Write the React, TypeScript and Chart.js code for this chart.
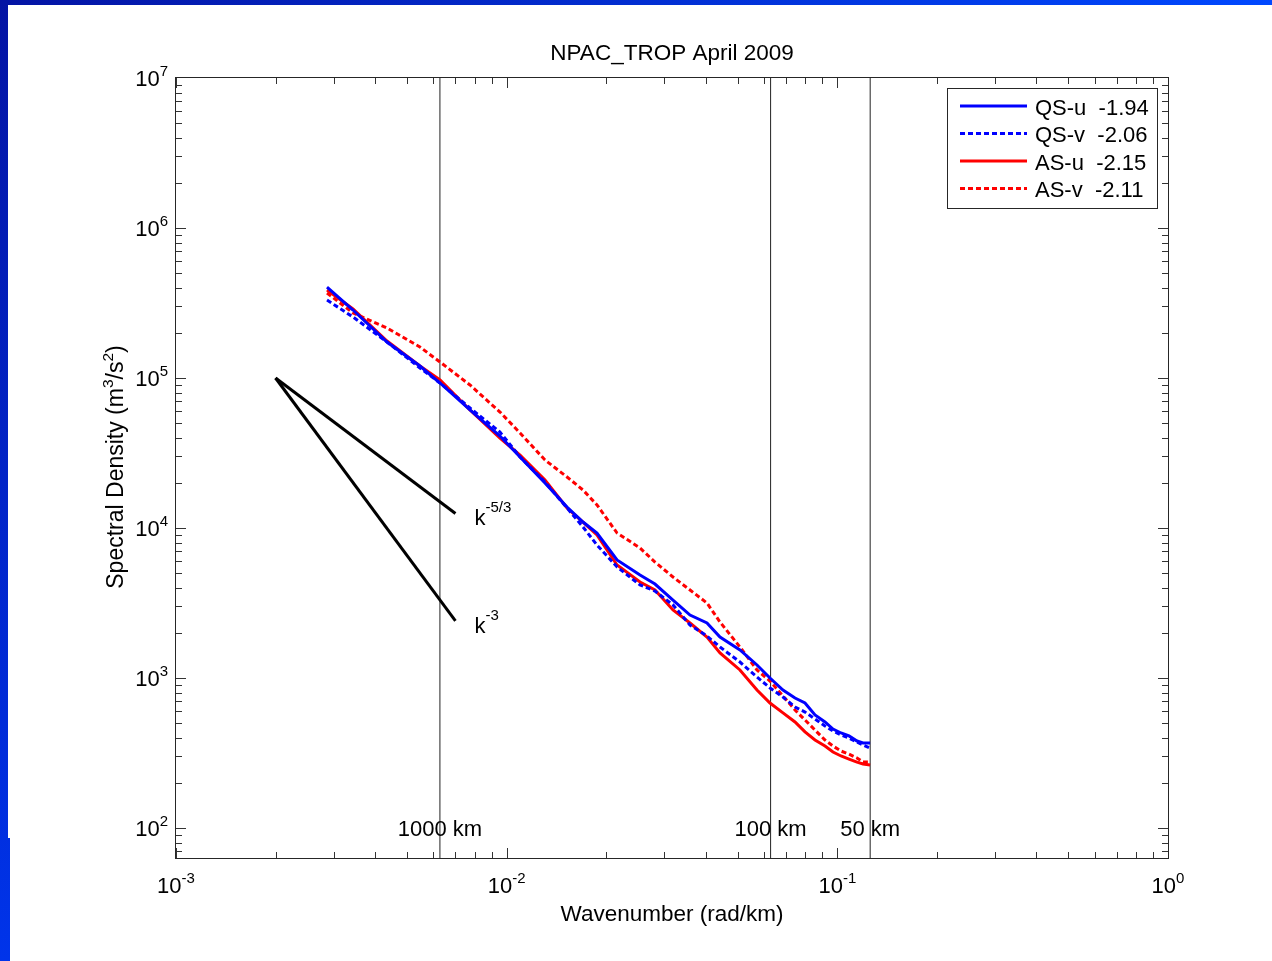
import { useEffect, useRef } from "react";
import { Chart, registerables } from "chart.js";

Chart.register(...registerables);

// ---------- data ----------
const wavenumber = [
  0.002862, 0.00343, 0.004346, 0.005467, 0.006287, 0.007746, 0.009545, 0.010975,
  0.013058, 0.015223, 0.017016, 0.018756, 0.021568, 0.025309, 0.028089, 0.031842,
  0.035849, 0.040345, 0.044171, 0.050755, 0.057148, 0.062563, 0.068487, 0.074473,
  0.07984, 0.085593, 0.09177, 0.097027, 0.10259, 0.10847, 0.11469, 0.11958, 0.12565,
];
const qsU = [
  4.04e5, 2.84e5, 1.738e5, 1.202e5, 9.26e4, 6.12e4, 4.105e4, 2.974e4, 1.995e4, 1.38e4,
  1.096e4, 9.26e3, 6.12e3, 4.86e3, 4.23e3, 3.31e3, 2.63e3, 2.326e3, 1.876e3, 1.537e3,
  1.221e3, 1000, 832, 736, 681, 567, 509, 457, 430, 411, 380, 369, 369,
];
const qsV = [
  3.31e5, 2.551e5, 1.738e5, 1.166e5, 9.26e4, 6.31e4, 4.365e4, 2.974e4, 2.026e4, 1.359e4,
  1.016e4, 7.7e3, 5.5e3, 4.17e3, 3.8e3, 3.07e3, 2.256e3, 1.905e3, 1.609e3, 1.278e3,
  1.016e3, 858, 747, 641, 593, 533, 479, 443, 417, 398, 374, 358, 341,
];
const asU = [
  3.86e5, 2.884e5, 1.765e5, 1.202e5, 9.7e4, 6.12e4, 3.98e4, 3.067e4, 2.089e4, 1.359e4,
  1.096e4, 8.98e3, 5.67e3, 4.365e3, 3.86e3, 2.84e3, 2.326e3, 1.876e3, 1.468e3, 1.131e3,
  832, 681, 585, 509, 437, 386, 352, 321, 302, 288, 275, 267, 263,
];
const asV = [
  3.687e5, 2.712e5, 2.154e5, 1.609e5, 1.278e5, 8.98e4, 5.93e4, 4.3e4, 2.84e4, 2.188e4,
  1.792e4, 1.424e4, 9.26e3, 7.36e3, 5.93e3, 4.715e3, 3.86e3, 3.162e3, 2.362e3, 1.609e3,
  1.131e3, 955, 759, 612, 525, 450, 386, 352, 326, 311, 293, 275, 275,
];
const seriesNames = ["QS-u", "QS-v", "AS-u", "AS-v"];
const seriesSlopes = ["-1.94", "-2.06", "-2.15", "-2.11"];

const refK = [0.002, 0.007];
const refFiveThirds = [1e5, 1.25e4];
const refThree = [1e5, 2.4e3];
const refLabels = ["k", "k"];
const refExponents = ["-5/3", "-3"];

const scaleMarkK = [0.006283, 0.06283, 0.1257];
const scaleMarkLabels = ["1000 km", "100 km", "50 km"];

const xTickExponents = ["-3", "-2", "-1", "0"];
const yTickExponents = ["2", "3", "4", "5", "6", "7"];

const X_MIN = 1e-3;
const X_MAX = 1;
const Y_MIN = 63.0957;
const Y_MAX = 1e7;

const titleText = "NPAC_TROP April 2009";
const xTitle = "Wavenumber (rad/km)";

const W = 1272;
const H = 961;
const FONT = '"Liberation Sans", Arial, Helvetica, sans-serif';

function pts(xs: number[], ys: number[]) {
  return xs.map((x, i) => ({ x, y: ys[i] }));
}

function drawPow(ctx: CanvasRenderingContext2D, base: string, exp: string, x: number, baseline: number, align: "center" | "right" | "left", bigSize = 22, smallSize = 15, raise = 10) {
  ctx.font = `${bigSize}px ${FONT}`;
  const wb = ctx.measureText(base).width;
  ctx.font = `${smallSize}px ${FONT}`;
  const we = ctx.measureText(exp).width;
  const total = wb + we;
  let sx = x;
  if (align === "center") sx = x - total / 2;
  else if (align === "right") sx = x - total;
  ctx.textAlign = "left";
  ctx.textBaseline = "alphabetic";
  ctx.font = `${bigSize}px ${FONT}`;
  ctx.fillText(base, sx, baseline);
  ctx.font = `${smallSize}px ${FONT}`;
  ctx.fillText(exp, sx + wb, baseline - raise);
}

const decor = {
  id: "matlabDecor",
  beforeDraw(chart: any) {
    const ctx: CanvasRenderingContext2D = chart.ctx;
    ctx.save();
    ctx.fillStyle = "#ffffff";
    ctx.fillRect(0, 0, W, H);
    const gTop = ctx.createLinearGradient(0, 0, W, 0);
    gTop.addColorStop(0, "#0414a4");
    gTop.addColorStop(1, "#0048ff");
    ctx.fillStyle = gTop;
    ctx.fillRect(0, 0, W, 5);
    const gLeft = ctx.createLinearGradient(0, 0, 0, H);
    gLeft.addColorStop(0, "#0414a4");
    gLeft.addColorStop(1, "#0034ea");
    ctx.fillStyle = gLeft;
    ctx.fillRect(0, 0, 8, 838);
    ctx.fillRect(0, 838, 10, H - 838);
    ctx.restore();
  },
  afterDatasetsDraw(chart: any) {
    const ctx: CanvasRenderingContext2D = chart.ctx;
    const { left, right, top, bottom } = chart.chartArea;
    const xs = chart.scales.x;
    const ys = chart.scales.y;
    ctx.save();

    // ticks (inside, all four sides)
    ctx.strokeStyle = "#333333";
    ctx.lineWidth = 1;
    ctx.beginPath();
    for (let e = -3; e < 0; e++) {
      for (let m = 1; m <= 9; m++) {
        const v = m * Math.pow(10, e);
        const px = Math.round(xs.getPixelForValue(v)) + 0.5;
        const len = m === 1 ? 10 : 6;
        ctx.moveTo(px, bottom);
        ctx.lineTo(px, bottom - len);
        ctx.moveTo(px, top);
        ctx.lineTo(px, top + len);
      }
    }
    for (let e = 1; e < 7; e++) {
      for (let m = 1; m <= 9; m++) {
        const v = m * Math.pow(10, e);
        if (v < Y_MIN) continue;
        const py = Math.round(ys.getPixelForValue(v)) + 0.5;
        const len = m === 1 ? 10 : 6;
        ctx.moveTo(left, py);
        ctx.lineTo(left + len, py);
        ctx.moveTo(right, py);
        ctx.lineTo(right - len, py);
      }
    }
    ctx.stroke();

    // box
    ctx.strokeStyle = "#262626";
    ctx.strokeRect(Math.round(left) - 0.5, Math.round(top) - 0.5, Math.round(right - left) + 1, Math.round(bottom - top) + 1);

    ctx.fillStyle = "#000000";
    // x tick labels
    xTickExponents.forEach((ex) => {
      const px = xs.getPixelForValue(Math.pow(10, Number(ex)));
      drawPow(ctx, "10", ex, px, bottom + 35, "center");
    });
    // y tick labels
    yTickExponents.forEach((ex) => {
      const py = ys.getPixelForValue(Math.pow(10, Number(ex)));
      drawPow(ctx, "10", ex, left - 8, py + 8, "right");
    });

    // title
    ctx.font = `22.5px ${FONT}`;
    ctx.textAlign = "center";
    ctx.textBaseline = "alphabetic";
    ctx.fillText(titleText, (left + right) / 2, 60);
    // x title
    ctx.fillText(xTitle, (left + right) / 2, 921);

    // y title rotated with superscripts
    ctx.save();
    ctx.translate(123, 467);
    ctx.rotate(-Math.PI / 2);
    const parts: [string, boolean][] = [["Spectral Density (m", false], ["3", true], ["/s", false], ["2", true], [")", false]];
    let tw = 0;
    parts.forEach(([t, sup]) => {
      ctx.font = `${sup ? 15.5 : 23}px ${FONT}`;
      tw += ctx.measureText(t).width;
    });
    let cx = -tw / 2;
    ctx.textAlign = "left";
    parts.forEach(([t, sup]) => {
      ctx.font = `${sup ? 15.5 : 23}px ${FONT}`;
      ctx.fillText(t, cx, sup ? -10 : 0);
      cx += ctx.measureText(t).width;
    });
    ctx.restore();

    // scale mark labels
    ctx.font = `22px ${FONT}`;
    ctx.textAlign = "center";
    scaleMarkK.forEach((k, i) => {
      ctx.fillText(scaleMarkLabels[i], xs.getPixelForValue(k), ys.getPixelForValue(100) + 8);
    });

    // reference slope labels
    const ends = [refFiveThirds[1], refThree[1]];
    ends.forEach((v, i) => {
      const px = xs.getPixelForValue(refK[1]);
      const py = ys.getPixelForValue(v);
      drawPow(ctx, refLabels[i], refExponents[i], px + 19, py + 12, "left", 22, 15, 13);
    });

    // legend
    const lx = 947.5, ly = 88.5, lw = 210, lh = 120;
    ctx.fillStyle = "#ffffff";
    ctx.fillRect(lx, ly, lw, lh);
    ctx.strokeStyle = "#262626";
    ctx.lineWidth = 1;
    ctx.strokeRect(lx, ly, lw, lh);
    const rows = [106, 133.5, 161, 188.5];
    for (let i = 0; i < 4; i++) {
      const ds = chart.data.datasets[i];
      ctx.beginPath();
      ctx.strokeStyle = ds.borderColor;
      ctx.lineWidth = 3;
      ctx.setLineDash(ds.borderDash || []);
      ctx.moveTo(960, rows[i]);
      ctx.lineTo(1027, rows[i]);
      ctx.stroke();
      ctx.setLineDash([]);
      ctx.fillStyle = "#000000";
      ctx.font = `22px ${FONT}`;
      ctx.textAlign = "left";
      ctx.textBaseline = "alphabetic";
      ctx.fillText(`${seriesNames[i]}  ${seriesSlopes[i]}`, 1035, rows[i] + 8.5);
    }
    ctx.restore();
  },
};

export default function App() {
  const ref = useRef<HTMLCanvasElement | null>(null);
  useEffect(() => {
    if (!ref.current) return;
    const dash = [5, 3];
    const common = { pointRadius: 0, borderWidth: 3, tension: 0, fill: false };
    const chart = new Chart(ref.current, {
      type: "line",
      data: {
        datasets: [
          { label: seriesNames[0], data: pts(wavenumber, qsU), borderColor: "#0000ff", ...common },
          { label: seriesNames[1], data: pts(wavenumber, qsV), borderColor: "#0000ff", borderDash: dash, ...common },
          { label: seriesNames[2], data: pts(wavenumber, asU), borderColor: "#ff0000", ...common },
          { label: seriesNames[3], data: pts(wavenumber, asV), borderColor: "#ff0000", borderDash: dash, ...common },
          { label: "k^-5/3", data: pts(refK, refFiveThirds), borderColor: "#000000", ...common },
          { label: "k^-3", data: pts(refK, refThree), borderColor: "#000000", ...common },
          ...scaleMarkK.map((k, i) => ({
            label: scaleMarkLabels[i],
            data: [{ x: k, y: Y_MIN }, { x: k, y: Y_MAX }],
            borderColor: "#222222",
            pointRadius: 0,
            borderWidth: 1,
            fill: false,
          })),
        ] as any,
      },
      options: {
        animation: false,
        responsive: false,
        devicePixelRatio: 1,
        layout: { padding: { left: 176, top: 78, right: W - 1168, bottom: H - 858 } },
        scales: {
          x: { type: "logarithmic", min: X_MIN, max: X_MAX, display: false },
          y: { type: "logarithmic", min: Y_MIN, max: Y_MAX, display: false },
        },
        plugins: { legend: { display: false }, tooltip: { enabled: false }, title: { display: false } },
        events: [],
      } as any,
      plugins: [decor],
    });
    return () => chart.destroy();
  }, []);
  return (
    <div style={{ position: "absolute", left: 0, top: 0, width: W, height: H, background: "#fff" }}>
      <canvas ref={ref} width={W} height={H} style={{ display: "block" }} />
    </div>
  );
}
